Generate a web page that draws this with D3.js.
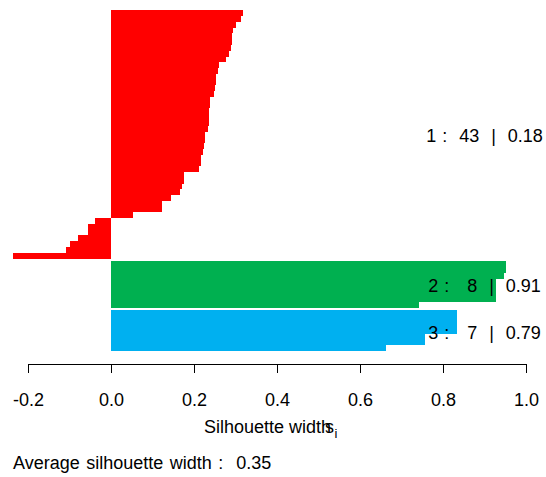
<!DOCTYPE html>
<html>
<head>
<meta charset="utf-8">
<script src="https://cdn.jsdelivr.net/npm/d3@7"></script>
<style>
  body { margin: 0; background: #fff; }
  svg text { font-family: "Liberation Sans", Arial, sans-serif; fill: #000; }
</style>
</head>
<body>
<div id="chart"></div>
<script>
// silhouette widths per cluster, sorted as drawn (top to bottom)
const cluster1 = [0.318, 0.313, 0.301, 0.294, 0.292, 0.291, 0.288, 0.284, 0.277, 0.260,
    0.258, 0.253, 0.252, 0.250, 0.247, 0.239, 0.238, 0.236, 0.236, 0.235,
    0.234, 0.226, 0.226, 0.224, 0.222, 0.217, 0.217, 0.212, 0.176, 0.176,
    0.171, 0.166, 0.145, 0.123, 0.123, 0.053, -0.038, -0.055, -0.055, -0.080,
    -0.099, -0.108, -0.236]
const cluster2 = [0.953, 0.953, 0.946, 0.927, 0.927, 0.927, 0.927, 0.741]
const cluster3 = [0.834, 0.834, 0.834, 0.834, 0.757, 0.757, 0.662]
const clusterIds = ["1", "2", "3"]
const clusterAvg = ["0.18", "0.91", "0.79"]
const clusterColors = ["#ff0000", "#00b050", "#00b0f0"]
const xTicks = [-0.2, 0.0, 0.2, 0.4, 0.6, 0.8, 1.0]
const avgWidth = "0.35"

const clusters = [cluster1, cluster2, cluster3]
const W = 546, H = 477
const gap = 0.5 // space between clusters, in bar units
const sp = "\u00a0"

// flatten into bars with a slot position
const bars = []
let slot = 0
clusters.forEach((vals, ci) => {
    if (ci > 0) slot += gap
    vals.forEach(v => {
        bars.push({ cluster: ci, value: v, pos: slot })
        slot += 1
    })
})
const totalSlots = slot

const svg = d3.select("#chart").append("svg")
    .attr("width", W)
    .attr("height", H)

const x = d3.scaleLinear().domain([-0.2, 1]).range([28, 526])
const y = d3.scaleLinear().domain([0, totalSlots]).range([10, 350.8])

// bars
svg.append("g")
    .attr("shape-rendering", "crispEdges")
    .selectAll("rect")
    .data(bars)
    .enter().append("rect")
    .attr("x", d => x(Math.min(0, d.value)))
    .attr("y", d => y(d.pos))
    .attr("width", d => Math.abs(x(d.value) - x(0)))
    .attr("height", y(1) - y(0) + 0.3)
    .attr("fill", d => clusterColors[d.cluster])

// cluster labels at the right
const nWidth = d3.max(clusters, c => String(c.length).length)
const labelData = clusters.map((vals, ci) => {
    const own = bars.filter(b => b.cluster === ci)
    const mid = (own[0].pos + own[own.length - 1].pos + 1) / 2
    const n = String(vals.length).padStart(nWidth, " ")
    return { ci, n, mid }
})
svg.append("g").selectAll("text")
    .data(labelData)
    .enter().append("text")
    .attr("x", 484.5)
    .attr("y", d => y(d.mid))
    .attr("dy", "0.45em")
    .attr("text-anchor", "middle")
    .style("font-size", "18px")
    .style("word-spacing", "1px")
    .text(d => `${clusterIds[d.ci]} :  ${d.n}  |  ${clusterAvg[d.ci]}`.replace(/ /g, sp))

// x axis
const axis = svg.append("g")
    .attr("transform", "translate(0,364)")
    .call(d3.axisBottom(x)
        .tickValues(xTicks)
        .tickFormat(d => d3.format(".1f")(d).replace("\u2212", "-"))
        .tickSize(9)
        .tickSizeOuter(0)
        .tickPadding(20))
axis.selectAll("text")
    .style("font-size", "18px")
    .style("font-family", "Liberation Sans, Arial, sans-serif")
axis.selectAll("line, path").attr("stroke", "#000")

// axis title: Silhouette width s_i  (s drawn over the h, as in the original)
svg.append("text")
    .attr("x", 204)
    .attr("y", 433)
    .style("font-size", "18px")
    .text("Silhouette width")
svg.append("text")
    .attr("x", 325)
    .attr("y", 433)
    .style("font-size", "18px")
    .text("s")
svg.append("text")
    .attr("x", 334.5)
    .attr("y", 438)
    .style("font-size", "13px")
    .text("i")

// average silhouette width
svg.append("text")
    .attr("x", 13)
    .attr("y", 469)
    .style("font-size", "18px")
    .style("word-spacing", "1.5px")
    .text(`Average silhouette width :  ${avgWidth}`.replace(/ /g, sp))
</script>
</body>
</html>
